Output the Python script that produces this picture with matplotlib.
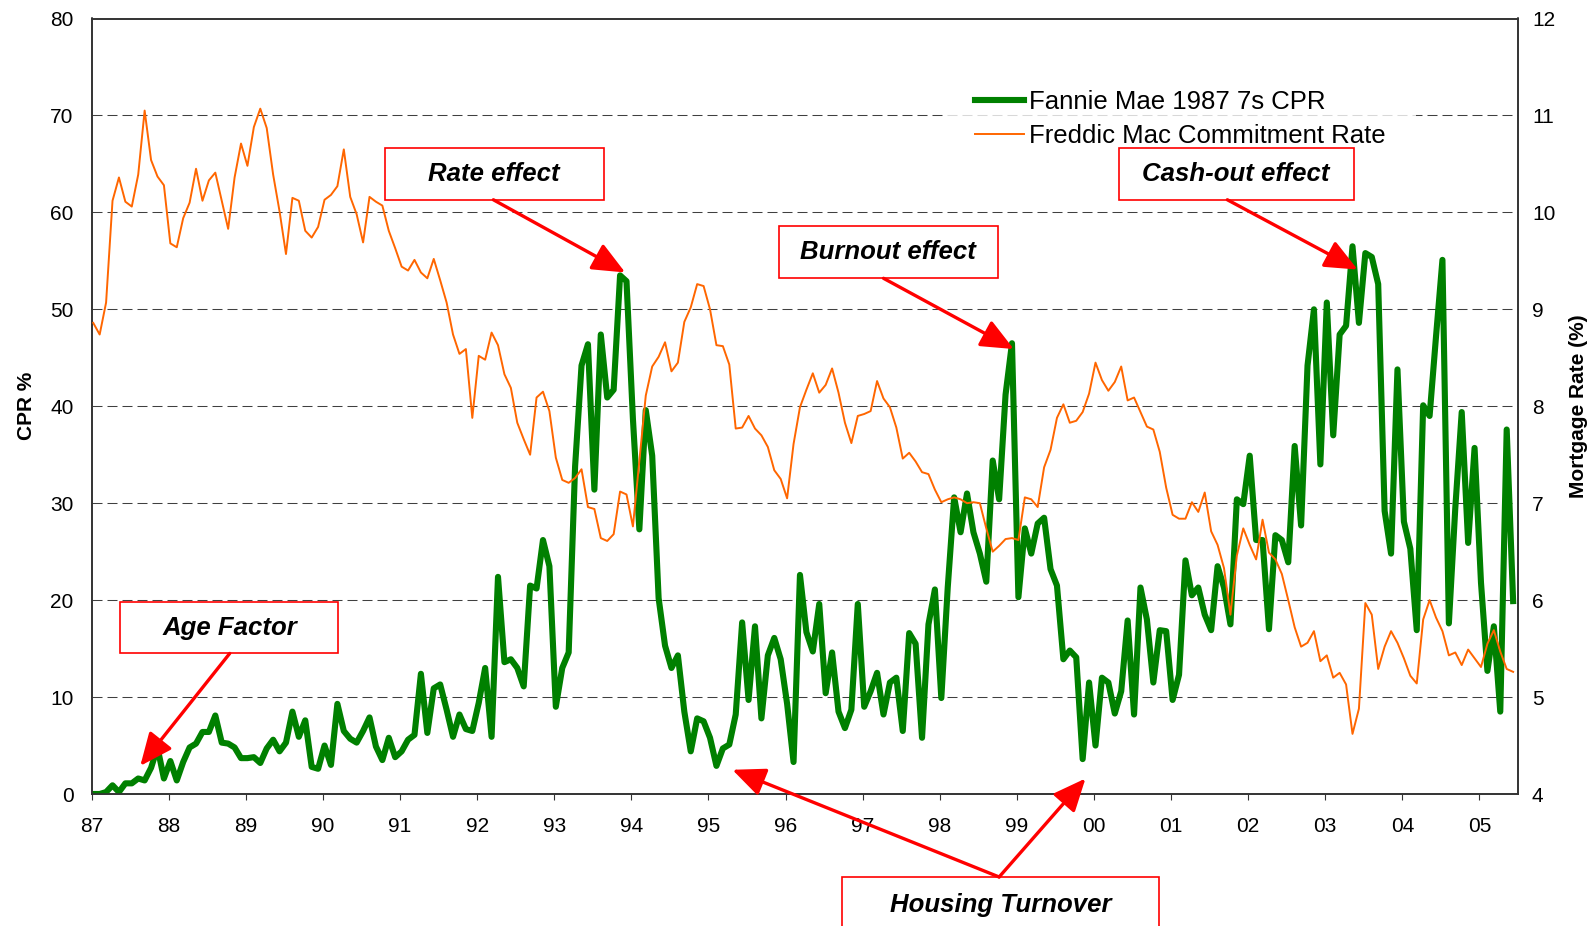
import numpy as np
import matplotlib
matplotlib.use("Agg")
import matplotlib.pyplot as plt
from matplotlib.patches import Rectangle
from matplotlib.lines import Line2D

plt.rcParams['font.family'] = ['Liberation Sans', 'DejaVu Sans']

# ---------------- data (monthly, Jan 1987 .. Jun 2005) ----------------
start_year = 1987
cpr = [
    0, 0, 0.2, 0.9, 0.2, 1.1, 1.1, 1.6, 1.4, 2.7, 4.8, 1.6,            # 87
    3.4, 1.4, 3.3, 4.8, 5.2, 6.4, 6.4, 8.1, 5.3, 5.2, 4.8, 3.7,        # 88
    3.7, 3.8, 3.2, 4.7, 5.6, 4.4, 5.3, 8.5, 5.9, 7.6, 2.8, 2.6,        # 89
    5.0, 3.0, 9.3, 6.5, 5.7, 5.3, 6.5, 7.9, 4.9, 3.5, 5.8, 3.8,        # 90
    4.4, 5.6, 6.1, 12.4, 6.3, 10.9, 11.3, 8.7, 5.9, 8.2, 6.7, 6.5,     # 91
    9.4, 13.0, 5.9, 22.4, 13.6, 13.9, 13.0, 11.1, 21.5, 21.2, 26.2, 23.5,  # 92
    9.0, 13.0, 14.6, 33.8, 44.2, 46.4, 31.4, 47.4, 40.9, 41.7, 53.5, 52.9,  # 93
    38.7, 27.3, 39.6, 34.9, 20.2, 15.3, 13.0, 14.3, 8.5, 4.4, 7.8, 7.5,    # 94
    5.8, 2.9, 4.7, 5.1, 8.2, 17.7, 9.7, 17.3, 7.8, 14.3, 16.1, 13.9,   # 95
    9.3, 3.3, 22.6, 16.7, 14.7, 19.6, 10.4, 14.6, 8.5, 6.8, 8.7, 19.6, # 96
    9.0, 10.6, 12.5, 8.2, 11.5, 12.0, 6.5, 16.6, 15.5, 5.8, 17.5, 21.1, # 97
    9.9, 21.3, 30.6, 27.0, 31.0, 27.0, 24.8, 21.9, 34.4, 30.4, 41.2, 46.5, # 98
    20.3, 27.4, 24.8, 27.9, 28.5, 23.2, 21.5, 13.9, 14.8, 14.1, 3.6, 11.5, # 99
    5.0, 12.0, 11.5, 8.3, 10.6, 17.9, 8.2, 21.3, 18.0, 11.5, 16.9, 16.8,  # 00
    9.7, 12.3, 24.1, 20.5, 21.3, 18.5, 16.9, 23.5, 21.3, 17.5, 30.4, 29.9, # 01
    34.9, 26.2, 26.2, 17.0, 26.7, 26.2, 23.9, 35.9, 27.7, 44.2, 50.0, 34.0, # 02
    50.7, 37.0, 47.4, 48.3, 56.5, 48.6, 55.8, 55.4, 52.6, 29.2, 24.8, 43.8, # 03
    28.1, 25.3, 16.9, 40.1, 39.0, 47.2, 55.1, 17.6, 29.5, 39.4, 25.9, 35.7, # 04
    21.8, 12.7, 17.3, 8.5, 37.6, 19.9,                                   # 05
]
rate = [
    8.86, 8.74, 9.07, 10.12, 10.36, 10.11, 10.06, 10.39, 11.05, 10.54, 10.37, 10.28,
    9.68, 9.64, 9.94, 10.10, 10.45, 10.12, 10.33, 10.41, 10.12, 9.83, 10.36, 10.71,
    10.48, 10.88, 11.07, 10.87, 10.39, 10.01, 9.57, 10.15, 10.12, 9.81, 9.74, 9.85,
    10.13, 10.18, 10.27, 10.65, 10.16, 9.98, 9.69, 10.16, 10.11, 10.07, 9.81, 9.63,
    9.44, 9.40, 9.51, 9.38, 9.32, 9.52, 9.30, 9.07, 8.74, 8.54, 8.59, 7.88,
    8.52, 8.48, 8.76, 8.63, 8.33, 8.19, 7.83, 7.66, 7.50, 8.09, 8.15, 7.95,
    7.47, 7.24, 7.21, 7.26, 7.35, 6.96, 6.94, 6.64, 6.61, 6.68, 7.12, 7.09,
    6.76, 7.44, 8.11, 8.41, 8.51, 8.66, 8.36, 8.45, 8.87, 9.02, 9.26, 9.24,
    9.00, 8.63, 8.62, 8.43, 7.77, 7.78, 7.90, 7.77, 7.70, 7.58, 7.34, 7.25,
    7.05, 7.61, 7.99, 8.17, 8.34, 8.14, 8.22, 8.39, 8.14, 7.83, 7.62, 7.90,
    7.92, 7.95, 8.26, 8.08, 7.99, 7.78, 7.46, 7.52, 7.43, 7.32, 7.30, 7.14,
    7.01, 7.04, 7.06, 7.04, 7.00, 7.01, 7.00, 6.74, 6.50, 6.56, 6.63, 6.64,
    6.62, 7.06, 7.04, 6.96, 7.37, 7.55, 7.88, 8.02, 7.83, 7.85, 7.94, 8.13,
    8.45, 8.27, 8.16, 8.25, 8.41, 8.06, 8.09, 7.94, 7.79, 7.76, 7.53, 7.16,
    6.88, 6.84, 6.84, 7.01, 6.91, 7.11, 6.71, 6.57, 6.33, 5.85, 6.46, 6.74,
    6.57, 6.42, 6.83, 6.49, 6.42, 6.27, 6.00, 5.72, 5.52, 5.56, 5.68, 5.37,
    5.43, 5.20, 5.25, 5.13, 4.62, 4.88, 5.97, 5.85, 5.29, 5.52, 5.68, 5.56,
    5.40, 5.22, 5.14, 5.80, 6.00, 5.82, 5.68, 5.43, 5.46, 5.33, 5.49, 5.40,
    5.31, 5.55, 5.69, 5.47, 5.29, 5.26,
]
year_ticks = list(range(1987, 2006))
year_labels = ['87', '88', '89', '90', '91', '92', '93', '94', '95', '96',
               '97', '98', '99', '00', '01', '02', '03', '04', '05']
cpr_label = "Fannie Mae 1987 7s CPR"
rate_label = "Freddic Mac Commitment Rate"

x = start_year + 0.02 + np.arange(len(cpr)) / 12.0

# ---------------- figure ----------------
W, H = 1596, 926
fig = plt.figure(figsize=(W / 100, H / 100), dpi=100)
fig.subplots_adjust(left=91.7 / W, right=1518 / W, bottom=1 - 794 / H, top=1 - 18.5 / H)
ax = fig.add_subplot(111)
ax2 = ax.twinx()

GREEN = '#008000'
ORANGE = '#FF6600'
RED = '#FF0000'

ax.plot(x, cpr, color=GREEN, lw=4.4, solid_joinstyle='round', zorder=3)
ax2.plot(x, rate, color=ORANGE, lw=1.4, zorder=3)

ax.set_xlim(1987, 2005.5)
ax.set_ylim(0, 80)
ax2.set_ylim(4, 12)
ax.set_yticks(range(0, 81, 10))
ax2.set_yticks(range(4, 13, 1))
ax.set_xticks(year_ticks)
ax.set_xticklabels(year_labels)

ax.yaxis.grid(True, color='#404040', lw=0.75, dashes=(9.6, 4.8))
ax.set_axisbelow(True)

for a in (ax, ax2):
    for s in a.spines.values():
        s.set_color('#333333')
        s.set_linewidth(1.2)
ax.tick_params(axis='y', length=0, pad=13, labelsize=15)
ax2.tick_params(axis='y', length=0, pad=10, labelsize=15)
ax.tick_params(axis='x', length=4, direction='out', pad=12.5, labelsize=15, color='#333333')

ax.set_ylabel('CPR %', fontsize=15, fontweight='bold')
ax2.set_ylabel('Mortgage Rate (%)', fontsize=15, fontweight='bold')
ax.yaxis.set_label_coords(-(91.7 - 36) / 1426.3, 0.5)
ax2.yaxis.set_label_coords(1 + (1569 - 1518) / 1426.3, 0.5)

# legend
handles = [Line2D([], [], color=GREEN, lw=4.4), Line2D([], [], color=ORANGE, lw=1.4)]
leg = ax2.legend(handles, [cpr_label, rate_label], loc='upper left',
                 bbox_to_anchor=((944 - 91.7) / 1426.3, (794 - 59) / 775.5),
                 fontsize=18.5, frameon=True, borderpad=1.2, borderaxespad=0,
                 handlelength=1.9, handletextpad=0.2, labelspacing=0.4, fancybox=False)
leg.get_frame().set_facecolor('white')
leg.get_frame().set_edgecolor('none')
leg.set_zorder(5)

# ---------------- annotations (in CPR data coords) ----------------
T = ax.transData
def box(x0, x1, y0, y1, text, tx, ty):
    r = Rectangle((x0, y0), x1 - x0, y1 - y0, transform=T, facecolor='white',
                  edgecolor=RED, lw=1.2, zorder=6, clip_on=False)
    ax2.add_patch(r)
    ax2.text(tx, ty, text, transform=T, ha='center', va='center', fontsize=18.5,
             fontweight='bold', fontstyle='italic', zorder=7, clip_on=False)

def arrow(xs, ys, xe, ye):
    ax2.annotate('', xy=(xe, ye), xycoords=T, xytext=(xs, ys), textcoords=T,
                 arrowprops=dict(arrowstyle='-|>,head_length=0.8,head_width=0.35', color=RED,
                                 lw=2.4, mutation_scale=25, shrinkA=0, shrinkB=0),
                 annotation_clip=False, zorder=8)

box(1987.37, 1990.20, 14.5, 19.8, 'Age Factor', 1988.79, 17.1)
arrow(1988.79, 14.5, 1987.63, 2.9)

box(1990.81, 1993.65, 61.3, 66.6, 'Rate effect', 1992.22, 64.0)
arrow(1992.21, 61.3, 1993.92, 53.8)

box(1995.92, 1998.76, 53.2, 58.6, 'Burnout effect', 1997.33, 55.9)
arrow(1997.27, 53.2, 1998.96, 45.9)

box(2000.32, 2003.37, 61.3, 66.6, 'Cash-out effect', 2001.84, 64.0)
arrow(2001.73, 61.3, 2003.42, 54.1)

box(1996.73, 2000.84, -14.5, -8.56, 'Housing Turnover', 1998.79, -11.45)
arrow(1998.77, -8.56, 1995.31, 2.5)
arrow(1998.77, -8.56, 1999.89, 1.6)

fig.savefig('out.png', dpi=100)
